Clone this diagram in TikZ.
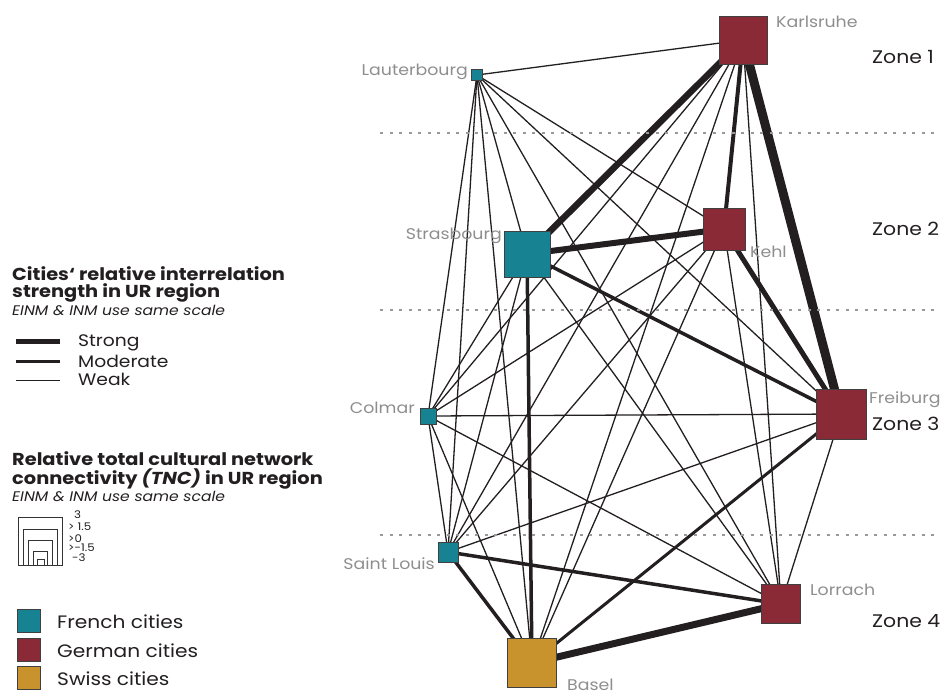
\documentclass[tikz,border=0pt]{standalone}
\usepackage{fontspec}
\setmainfont{Poppins}[FakeStretch=1.12]
\usetikzlibrary{calc}
\definecolor{french}{HTML}{178292}
\definecolor{german}{HTML}{8A2A37}
\definecolor{swiss}{HTML}{C8922C}
\definecolor{edgecol}{HTML}{231F20}
\definecolor{lblgray}{HTML}{8E8E8E}
\definecolor{txtdark}{HTML}{231F20}
\pgfdeclarelayer{bg}
\pgfsetlayers{bg,main}
\tikzset{
  city/.style={draw=black!75, line width=0.8pt, rectangle, inner sep=0pt, minimum size=#1},
  fr/.style={city=#1, fill=french},
  de/.style={city=#1, fill=german},
  ch/.style={city=#1, fill=swiss},
  weak/.style={draw=edgecol, line width=1.3pt},
  lnk/.style={draw=edgecol, line width=#1},
  citylbl/.style={text=lblgray, font=\fontsize{15.5}{15.5}\selectfont, inner sep=0pt},
  zonelbl/.style={text=txtdark, font=\fontsize{18.2}{18.2}\selectfont, inner sep=0pt, anchor=base west},
  zoneline/.style={draw=gray!80, line width=1.1pt, dash pattern=on 3pt off 6.5pt},
  legtitle/.style={text=txtdark, font=\bfseries\fontsize{17.3}{17.3}\selectfont, inner sep=0pt, anchor=base west},
  legsub/.style={text=txtdark, font=\itshape\fontsize{13.9}{13.9}\selectfont, inner sep=0pt, anchor=base west},
  legtxt/.style={text=txtdark, font=\fontsize{16.7}{16.7}\selectfont, inner sep=0pt, anchor=base west},
  colortxt/.style={text=txtdark, font=\fontsize{18}{18}\selectfont, inner sep=0pt, anchor=base west},
  scaletxt/.style={text=txtdark, font=\fontsize{10.5}{10.5}\selectfont, inner sep=0pt, anchor=base west},
  scalebox/.style={draw=black!80, line width=1pt}
}
\begin{document}
\begin{tikzpicture}[x=1pt,y=-1pt]
\useasboundingbox (0,0) rectangle (941,694);
% zone separators
\draw[zoneline] (380,133) -- (941,133);
\draw[zoneline] (380,310) -- (941,310);
\draw[zoneline] (380,535) -- (941,535);
% cities
\node[de=48] (Ka) at (743,40) {};
\node[fr=11] (La) at (477,75) {};
\node[fr=46] (St) at (527,254) {};
\node[de=42] (Ke) at (724,229) {};
\node[de=50] (Fr) at (841,414) {};
\node[fr=16] (Co) at (428,416) {};
\node[fr=20] (SL) at (448,552) {};
\node[de=39] (Lo) at (781,604) {};
\node[ch=49] (Ba) at (532,663) {};
% connectors
\begin{pgfonlayer}{bg}
\foreach \a/\b in {Ka/La,Ka/Co,Ka/SL,Ka/Lo,Ka/Ba,
  La/St,La/Ke,La/Fr,La/Co,La/SL,La/Lo,La/Ba,
  St/Co,St/SL,St/Lo,
  Ke/Co,Ke/SL,Ke/Lo,Ke/Ba,
  Fr/Co,Fr/SL,Fr/Lo,
  Co/SL,Co/Lo,Co/Ba}
  \draw[weak] (\a.center) -- (\b.center);
\draw[lnk=9pt] (Ka.center) -- (Fr.center);
\draw[lnk=6.5pt] (Ka.center) -- (St.center);
\draw[lnk=6pt] (St.center) -- (Ke.center);
\draw[lnk=7pt] (Lo.center) -- (Ba.center);
\draw[lnk=5pt] (Ke.center) -- (Fr.center);
\draw[lnk=4pt] (Ka.center) -- (Ke.center);
\draw[lnk=3.5pt] (St.center) -- (Fr.center);
\draw[lnk=3.5pt] (St.center) -- (Ba.center);
\draw[lnk=3pt] (Fr.center) -- (Ba.center);
\draw[lnk=3.5pt] (SL.center) -- (Lo.center);
\draw[lnk=3.5pt] (SL.center) -- (Ba.center);
\end{pgfonlayer}
% city labels
\node[citylbl, anchor=base west] (tKa) at (776,27) {Karlsruhe};
\node[citylbl, anchor=base east] (tLa) at (468,75) {Lauterbourg};
\node[citylbl, anchor=base east] (tSt) at (502,239) {Strasbourg};
\node[citylbl, anchor=base west] (tKe) at (750,257) {Kehl};
\node[citylbl, anchor=base west] (tFr) at (869,403) {Freiburg};
\node[citylbl, anchor=base east] (tCo) at (415,413) {Colmar};
\node[citylbl, anchor=base east] (tSL) at (435,569) {Saint Louis};
\node[citylbl, anchor=base west] (tLo) at (810,595) {Lorrach};
\node[citylbl, anchor=base west] (tBa) at (567,690) {Basel};
% zones
\node[zonelbl] (z1) at (872,63) {Zone 1};
\node[zonelbl] (z2) at (872,235) {Zone 2};
\node[zonelbl] (z3) at (872,430) {Zone 3};
\node[zonelbl] (z4) at (872,627) {Zone 4};
% legend 1
\node[legtitle] (lt1a) at (12,280) {Cities‘ relative interrelation};
\node[legtitle] (lt1b) at (12,297.5) {strength in UR region};
\node[legsub] (ls1) at (12,315.5) {EINM \& INM use same scale};
\coordinate (s1) at (16,341); \coordinate (s2) at (60,341);
\draw[lnk=5pt] (s1) -- (s2);
\coordinate (m1) at (16,361.5); \coordinate (m2) at (60,361.5);
\draw[lnk=3.2pt] (m1) -- (m2);
\coordinate (w1) at (16,380.5); \coordinate (w2) at (60,380.5);
\draw[weak] (w1) -- (w2);
\node[legtxt] (tS) at (78,346.5) {Strong};
\node[legtxt] (tM) at (78,367) {Moderate};
\node[legtxt] (tW) at (78,385) {Weak};
% legend 2
\node[legtitle] (lt2a) at (12,465) {Relative total cultural network};
\node[legtitle] (lt2b) at (12,484.3) {connectivity \textit{(TNC)} in UR region};
\node[legsub] (ls2) at (12,501.7) {EINM \& INM use same scale};
\draw[scalebox] (18.3,565) rectangle (62.7,517.7);
\draw[scalebox] (23.3,565) rectangle (57.3,529);
\draw[scalebox] (28.3,565) rectangle (52.3,540.7);
\draw[scalebox] (33.3,565) rectangle (47.3,551.7);
\draw[scalebox] (37.3,565) rectangle (44,559);
\node[scaletxt] (v1) at (74,518) {3};
\node[scaletxt] (v2) at (68,530) {> 1.5};
\node[scaletxt] (v3) at (68,542) {>0};
\node[scaletxt] (v4) at (68,551.5) {>-1.5};
\node[scaletxt] (v5) at (72,561) {-3};
% legend 3
\node[fr=23] (kFr) at (28.5,621) {};
\node[de=23] (kDe) at (28.5,649.5) {};
\node[ch=23] (kCh) at (28.5,677.5) {};
\node[colortxt] (cFr) at (57,628) {French cities};
\node[colortxt] (cDe) at (57,657) {German cities};
\node[colortxt] (cCh) at (57,685) {Swiss cities};
\end{tikzpicture}
\end{document}
